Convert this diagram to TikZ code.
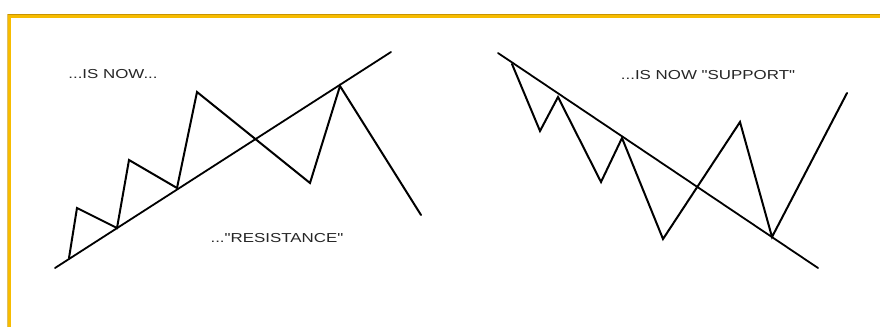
\documentclass[tikz,border=0pt]{standalone}
\usepackage{fontspec}
\newfontfamily\labelfont[FakeStretch=1.3]{Liberation Sans}
\definecolor{frameyellow}{HTML}{F7BC00}
\definecolor{frameedge}{HTML}{C99400}
\definecolor{labelgray}{HTML}{262626}
\tikzset{
  chartline/.style={black, line width=2pt, line join=miter, line cap=round},
  trendline/.style={black, line width=1.8pt, line cap=round},
  caption/.style={text=labelgray, font=\labelfont\fontsize{13}{15}\selectfont, inner sep=0pt},
}
\begin{document}
\begin{tikzpicture}[x=1pt,y=-1pt]
\useasboundingbox (0,0) rectangle (880,327);
\fill[white] (0,0) rectangle (880,327);
% frame
\fill[frameyellow] (7,14) rectangle (880,18);
\fill[frameyellow] (7,14) rectangle (10.5,327);
\draw[frameedge, line width=0.8pt] (7,14.4) -- (880,14.4);
\draw[frameedge!60, line width=0.6pt] (7.3,14) -- (7.3,327);
% left chart
\coordinate (L0) at (55,268);
\coordinate (L1) at (391,52);
\draw[trendline] (L0) -- (L1);
\coordinate (a0) at (69,258);
\coordinate (a1) at (77,208);
\coordinate (a2) at (117,228);
\coordinate (a3) at (129,160);
\coordinate (a4) at (177,188);
\coordinate (a5) at (197,92);
\coordinate (a6) at (310,183);
\coordinate (a7) at (340,86);
\coordinate (a8) at (421,215);
\draw[chartline] (a0) -- (a1) -- (a2) -- (a3) -- (a4) -- (a5) -- (a6) -- (a7) -- (a8);
\node[caption] (t1) at (113,74) {...IS NOW...};
\node[caption] (t2) at (277,238) {..."RESISTANCE"};
% right chart
\coordinate (R0) at (498,53);
\coordinate (R1) at (818,268);
\draw[trendline] (R0) -- (R1);
\coordinate (b0) at (512,64);
\coordinate (b1) at (540,131);
\coordinate (b2) at (558,97);
\coordinate (b3) at (601,182);
\coordinate (b4) at (622,138);
\coordinate (b5) at (663,239);
\coordinate (b6) at (740,122);
\coordinate (b7) at (772,237);
\coordinate (b8) at (847,93);
\draw[chartline] (b0) -- (b1) -- (b2) -- (b3) -- (b4) -- (b5) -- (b6) -- (b7) -- (b8);
\node[caption] (t3) at (708,75) {...IS NOW "SUPPORT"};
\end{tikzpicture}
\end{document}
